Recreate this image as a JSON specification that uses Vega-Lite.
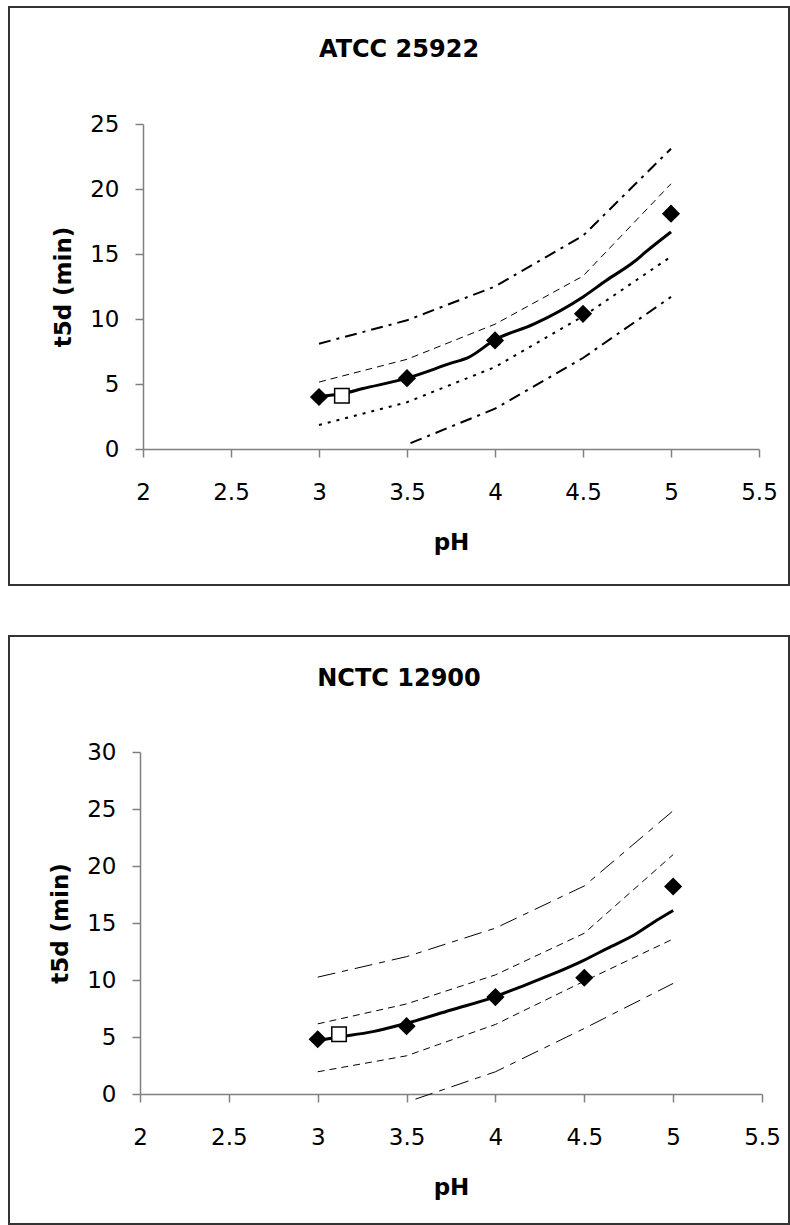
{
  "$schema": "https://vega.github.io/schema/vega-lite/v6.json",
  "padding": {"left": 8, "top": 6, "right": 0, "bottom": 0},
  "spacing": 49,
  "config": {
    "view": {"stroke": "#333333", "strokeWidth": 2, "fill": "#ffffff"},
    "font": "DejaVu Sans",
    "axis": {
      "grid": false,
      "domainColor": "#808080",
      "domainWidth": 1.5,
      "tickColor": "#808080",
      "tickWidth": 1.5,
      "tickSize": 8,
      "labelFont": "DejaVu Sans",
      "labelFontSize": 23,
      "labelColor": "#000000",
      "labelFlush": false,
      "labelOverlap": false,
      "titleFont": "DejaVu Sans",
      "titleFontSize": 23,
      "titleFontWeight": "bold",
      "titleColor": "#000000"
    },
    "axisX": {"labelPadding": 24, "titlePadding": 27},
    "axisY": {"labelPadding": 16, "titlePadding": 14},
    "title": {
      "font": "DejaVu Sans",
      "fontSize": 24,
      "fontWeight": "bold",
      "color": "#000000",
      "anchor": "middle",
      "frame": "group",
      "offset": -55
    }
  },
  "datasets": {
    "atcc": [
      {"series": "model", "ph": 3.0, "t5d": 4.05},
      {"series": "model", "ph": 3.13, "t5d": 4.25},
      {"series": "model", "ph": 3.25, "t5d": 4.65},
      {"series": "model", "ph": 3.5, "t5d": 5.45},
      {"series": "model", "ph": 3.75, "t5d": 6.6},
      {"series": "model", "ph": 3.85, "t5d": 7.05},
      {"series": "model", "ph": 4.0, "t5d": 8.4},
      {"series": "model", "ph": 4.22, "t5d": 9.6},
      {"series": "model", "ph": 4.5, "t5d": 11.7},
      {"series": "model", "ph": 4.63, "t5d": 12.95},
      {"series": "model", "ph": 4.79, "t5d": 14.4},
      {"series": "model", "ph": 4.86, "t5d": 15.2},
      {"series": "model", "ph": 5.0, "t5d": 16.7},
      {"series": "conf_hi", "ph": 3.0, "t5d": 5.15},
      {"series": "conf_hi", "ph": 3.5, "t5d": 6.9},
      {"series": "conf_hi", "ph": 4.0, "t5d": 9.6},
      {"series": "conf_hi", "ph": 4.5, "t5d": 13.3},
      {"series": "conf_hi", "ph": 5.0, "t5d": 20.4},
      {"series": "conf_lo", "ph": 3.0, "t5d": 1.85},
      {"series": "conf_lo", "ph": 3.5, "t5d": 3.6},
      {"series": "conf_lo", "ph": 4.0, "t5d": 6.3},
      {"series": "conf_lo", "ph": 4.5, "t5d": 10.2},
      {"series": "conf_lo", "ph": 5.0, "t5d": 14.8},
      {"series": "pred_hi", "ph": 3.0, "t5d": 8.1},
      {"series": "pred_hi", "ph": 3.5, "t5d": 9.9},
      {"series": "pred_hi", "ph": 4.0, "t5d": 12.5},
      {"series": "pred_hi", "ph": 4.5, "t5d": 16.4},
      {"series": "pred_hi", "ph": 5.0, "t5d": 23.1},
      {"series": "pred_lo", "ph": 3.52, "t5d": 0.45},
      {"series": "pred_lo", "ph": 4.0, "t5d": 3.1},
      {"series": "pred_lo", "ph": 4.5, "t5d": 7.0},
      {"series": "pred_lo", "ph": 5.0, "t5d": 11.7},
      {"series": "observed", "ph": 3.0, "t5d": 4.0},
      {"series": "observed", "ph": 3.5, "t5d": 5.45},
      {"series": "observed", "ph": 4.0, "t5d": 8.35},
      {"series": "observed", "ph": 4.5, "t5d": 10.4},
      {"series": "observed", "ph": 5.0, "t5d": 18.1},
      {"series": "test", "ph": 3.13, "t5d": 4.1}
    ],
    "nctc": [
      {"series": "model", "ph": 3.0, "t5d": 4.7},
      {"series": "model", "ph": 3.12, "t5d": 5.0},
      {"series": "model", "ph": 3.31, "t5d": 5.47},
      {"series": "model", "ph": 3.5, "t5d": 6.2},
      {"series": "model", "ph": 3.75, "t5d": 7.37},
      {"series": "model", "ph": 4.0, "t5d": 8.54},
      {"series": "model", "ph": 4.12, "t5d": 9.27},
      {"series": "model", "ph": 4.31, "t5d": 10.44},
      {"series": "model", "ph": 4.5, "t5d": 11.75},
      {"series": "model", "ph": 4.63, "t5d": 12.78},
      {"series": "model", "ph": 4.78, "t5d": 13.95},
      {"series": "model", "ph": 4.91, "t5d": 15.26},
      {"series": "model", "ph": 5.0, "t5d": 16.1},
      {"series": "conf_hi", "ph": 3.0, "t5d": 6.15},
      {"series": "conf_hi", "ph": 3.5, "t5d": 7.9},
      {"series": "conf_hi", "ph": 4.0, "t5d": 10.45},
      {"series": "conf_hi", "ph": 4.5, "t5d": 14.1},
      {"series": "conf_hi", "ph": 5.0, "t5d": 21.0},
      {"series": "conf_lo", "ph": 3.0, "t5d": 1.95},
      {"series": "conf_lo", "ph": 3.5, "t5d": 3.35},
      {"series": "conf_lo", "ph": 4.0, "t5d": 6.1},
      {"series": "conf_lo", "ph": 4.5, "t5d": 9.9},
      {"series": "conf_lo", "ph": 5.0, "t5d": 13.6},
      {"series": "pred_hi", "ph": 3.0, "t5d": 10.25},
      {"series": "pred_hi", "ph": 3.5, "t5d": 12.05},
      {"series": "pred_hi", "ph": 4.0, "t5d": 14.55},
      {"series": "pred_hi", "ph": 4.5, "t5d": 18.25},
      {"series": "pred_hi", "ph": 5.0, "t5d": 24.85},
      {"series": "pred_lo", "ph": 3.55, "t5d": -0.45},
      {"series": "pred_lo", "ph": 4.0, "t5d": 1.95},
      {"series": "pred_lo", "ph": 4.5, "t5d": 5.75},
      {"series": "pred_lo", "ph": 5.0, "t5d": 9.7},
      {"series": "observed", "ph": 3.0, "t5d": 4.8},
      {"series": "observed", "ph": 3.5, "t5d": 5.95},
      {"series": "observed", "ph": 4.0, "t5d": 8.5},
      {"series": "observed", "ph": 4.5, "t5d": 10.2},
      {"series": "observed", "ph": 5.0, "t5d": 18.2},
      {"series": "test", "ph": 3.12, "t5d": 5.25}
    ]
  },
  "vconcat": [
    {
      "title": "ATCC 25922",
      "width": 780,
      "height": 578,
      "data": {"name": "atcc"},
      "encoding": {
        "x": {
          "field": "ph", "type": "quantitative",
          "scale": {"domain": [2, 5.5], "range": [134, 750], "nice": false, "zero": false},
          "axis": {"title": "pH", "values": [2, 2.5, 3, 3.5, 4, 4.5, 5, 5.5], "format": "~g", "offset": -136}
        },
        "y": {
          "field": "t5d", "type": "quantitative",
          "scale": {"domain": [0, 25], "range": [442, 117], "nice": false},
          "axis": {"title": "t5d (min)", "values": [0, 5, 10, 15, 20, 25], "offset": -134}
        }
      },
      "layer": [
        {
          "transform": [{"filter": "datum.series === 'conf_hi'"}],
          "mark": {"type": "line", "color": "#000000", "strokeWidth": 1, "strokeDash": [7, 5]},
          "encoding": {}
        },
        {
          "transform": [{"filter": "datum.series === 'conf_lo'"}],
          "mark": {"type": "line", "color": "#000000", "strokeWidth": 2, "strokeDash": [3, 6]},
          "encoding": {}
        },
        {
          "transform": [{"filter": "datum.series === 'pred_hi' || datum.series === 'pred_lo'"}],
          "mark": {"type": "line", "color": "#000000", "strokeWidth": 2, "strokeDash": [12, 6, 3, 6]},
          "encoding": {"detail": {"field": "series"}}
        },
        {
          "transform": [{"filter": "datum.series === 'model'"}],
          "mark": {"type": "line", "color": "#000000", "strokeWidth": 3, "interpolate": "monotone"},
          "encoding": {}
        },
        {
          "transform": [{"filter": "datum.series === 'observed'"}],
          "mark": {"type": "point", "shape": "diamond", "filled": true, "color": "#000000", "size": 330, "opacity": 1},
          "encoding": {}
        },
        {
          "transform": [{"filter": "datum.series === 'test'"}],
          "mark": {"type": "point", "shape": "square", "filled": true, "fill": "#ffffff", "stroke": "#000000", "strokeWidth": 1.5, "size": 210, "opacity": 1},
          "encoding": {}
        }
      ]
    },
    {
      "title": "NCTC 12900",
      "width": 780,
      "height": 588,
      "data": {"name": "nctc"},
      "encoding": {
        "x": {
          "field": "ph", "type": "quantitative",
          "scale": {"domain": [2, 5.5], "range": [131, 753], "nice": false, "zero": false},
          "axis": {"title": "pH", "values": [2, 2.5, 3, 3.5, 4, 4.5, 5, 5.5], "format": "~g", "offset": -130}
        },
        "y": {
          "field": "t5d", "type": "quantitative",
          "scale": {"domain": [0, 30], "range": [458, 116], "nice": false},
          "axis": {"title": "t5d (min)", "values": [0, 5, 10, 15, 20, 25, 30], "offset": -131}
        }
      },
      "layer": [
        {
          "transform": [{"filter": "datum.series === 'conf_hi' || datum.series === 'conf_lo'"}],
          "mark": {"type": "line", "color": "#000000", "strokeWidth": 1, "strokeDash": [7, 5]},
          "encoding": {"detail": {"field": "series"}}
        },
        {
          "transform": [{"filter": "datum.series === 'pred_hi' || datum.series === 'pred_lo'"}],
          "mark": {"type": "line", "color": "#000000", "strokeWidth": 1, "strokeDash": [18, 7, 6, 7]},
          "encoding": {"detail": {"field": "series"}}
        },
        {
          "transform": [{"filter": "datum.series === 'model'"}],
          "mark": {"type": "line", "color": "#000000", "strokeWidth": 3, "interpolate": "monotone"},
          "encoding": {}
        },
        {
          "transform": [{"filter": "datum.series === 'observed'"}],
          "mark": {"type": "point", "shape": "diamond", "filled": true, "color": "#000000", "size": 330, "opacity": 1},
          "encoding": {}
        },
        {
          "transform": [{"filter": "datum.series === 'test'"}],
          "mark": {"type": "point", "shape": "square", "filled": true, "fill": "#ffffff", "stroke": "#000000", "strokeWidth": 1.5, "size": 210, "opacity": 1},
          "encoding": {}
        }
      ]
    }
  ]
}
